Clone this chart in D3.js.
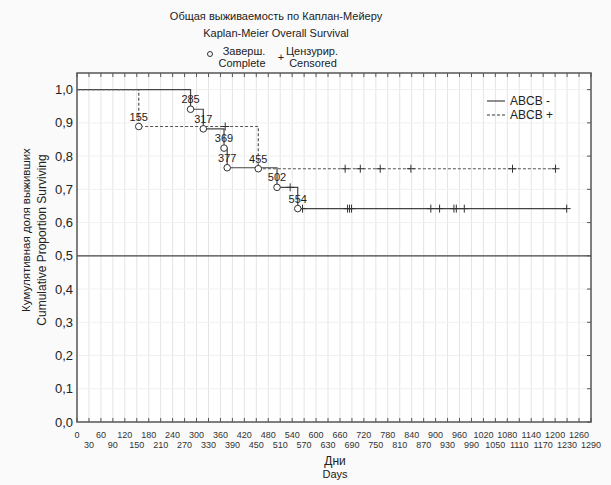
<!DOCTYPE html>
<html>
<head>
<meta charset="utf-8">
<script src="https://cdn.jsdelivr.net/npm/d3@7"></script>
<style>
  body { margin: 0; background: #fafafa; font-family: "Liberation Sans", Arial, sans-serif; }
</style>
</head>
<body>
<div id="chart"></div>
<script>
// Kaplan-Meier data
const minusEvents = [285, 317, 369, 377, 502, 554];
const minusSurv = [0.941, 0.882, 0.824, 0.765, 0.706, 0.642];
const minusCensored = [535, 566, 679, 684, 689, 888, 910, 946, 952, 972, 1229];

const plusEvents = [155, 455];
const plusSurv = [0.889, 0.762];
const plusCensored = [372, 673, 711, 761, 838, 1093, 1201];

const seriesNames = ["ABCB -", "ABCB +"];
const xTicks = d3.range(0, 1291, 30);
const yTicks = [0, 0.1, 0.2, 0.3, 0.4, 0.5, 0.6, 0.7, 0.8, 0.9, 1.0];

const W = 611, H = 485;
const margin = {top: 73, right: 20, bottom: 63, left: 77};
const width = W - margin.left - margin.right,
      height = H - margin.top - margin.bottom;

const svg = d3.select("#chart").append("svg")
    .attr("width", W).attr("height", H);

const x = d3.scaleLinear().domain([0, 1290]).range([margin.left, margin.left + width]);
const y = d3.scaleLinear().domain([0, 1.05]).range([margin.top + height, margin.top]);

// plot background
svg.append("rect")
    .attr("x", x(0)).attr("y", y(1.05))
    .attr("width", width).attr("height", height)
    .attr("fill", "#fff");

// grid
svg.append("g").selectAll("line")
  .data(xTicks.slice(1, -1))
  .join("line")
    .attr("x1", d => x(d)).attr("x2", d => x(d))
    .attr("y1", y(0)).attr("y2", y(1.05))
    .attr("stroke", "#e4e4e4").attr("stroke-width", 1);

svg.append("g").selectAll("line")
  .data(yTicks.slice(1))
  .join("line")
    .attr("x1", x(0)).attr("x2", x(1290))
    .attr("y1", d => y(d)).attr("y2", d => y(d))
    .attr("stroke", "#f0f0f0").attr("stroke-width", 1);

// median line
svg.append("line")
    .attr("x1", x(0)).attr("x2", x(1290))
    .attr("y1", y(0.5)).attr("y2", y(0.5))
    .attr("stroke", "#444").attr("stroke-width", 1.3);

// tick marks (inside)
const tickG = svg.append("g").attr("stroke", "#555").attr("stroke-width", 1);
tickG.selectAll(".tt").data(xTicks).join("line")
    .attr("x1", d => x(d)).attr("x2", d => x(d))
    .attr("y1", y(1.05)).attr("y2", y(1.05) + 4);
tickG.selectAll(".tb").data(xTicks).join("line")
    .attr("x1", d => x(d)).attr("x2", d => x(d))
    .attr("y1", y(0)).attr("y2", y(0) - 4);
tickG.selectAll(".tr").data(yTicks).join("line")
    .attr("x1", x(1290)).attr("x2", x(1290) - 4)
    .attr("y1", d => y(d)).attr("y2", d => y(d));

// frame
svg.append("rect")
    .attr("x", x(0)).attr("y", y(1.05))
    .attr("width", width).attr("height", height)
    .attr("fill", "none").attr("stroke", "#555").attr("stroke-width", 1.5);

// axis labels
svg.append("g").selectAll("text")
  .data(xTicks)
  .join("text")
    .attr("x", d => x(d))
    .attr("y", (d, i) => i % 2 === 0 ? y(0) + 16 : y(0) + 26)
    .attr("text-anchor", "middle")
    .attr("font-size", 9)
    .attr("fill", "#333")
    .text(d => d);

svg.append("g").selectAll("text")
  .data(yTicks)
  .join("text")
    .attr("x", x(0) - 4)
    .attr("y", d => y(d) + 4.5)
    .attr("text-anchor", "end")
    .attr("font-size", 13)
    .attr("fill", "#222")
    .text(d => d.toFixed(1).replace(".", ","));

// titles
const cx = 276;
svg.append("text").attr("x", cx).attr("y", 20).attr("text-anchor", "middle")
    .attr("font-size", 11).attr("fill", "#222").text("Общая выживаемость по Каплан-Мейеру");
svg.append("text").attr("x", cx).attr("y", 37).attr("text-anchor", "middle")
    .attr("font-size", 11).attr("fill", "#222").text("Kaplan-Meier Overall Survival");

// marker legend
svg.append("circle").attr("cx", 210).attr("cy", 54).attr("r", 2.5)
    .attr("fill", "none").attr("stroke", "#333");
svg.append("text").attr("x", 244).attr("y", 55).attr("text-anchor", "middle")
    .attr("font-size", 11).attr("fill", "#222").text("Заверш.");
svg.append("text").attr("x", 242).attr("y", 67).attr("text-anchor", "middle")
    .attr("font-size", 11).attr("fill", "#222").text("Complete");
svg.append("text").attr("x", 281).attr("y", 61).attr("text-anchor", "middle")
    .attr("font-size", 11).attr("fill", "#222").text("+");
svg.append("text").attr("x", 312).attr("y", 55).attr("text-anchor", "middle")
    .attr("font-size", 11).attr("fill", "#222").text("Цензурир.");
svg.append("text").attr("x", 313).attr("y", 67).attr("text-anchor", "middle")
    .attr("font-size", 11).attr("fill", "#222").text("Censored");

svg.append("text").attr("x", 335).attr("y", 465).attr("text-anchor", "middle")
    .attr("font-size", 12).attr("fill", "#222").text("Дни");
svg.append("text").attr("x", 335).attr("y", 478).attr("text-anchor", "middle")
    .attr("font-size", 11).attr("fill", "#222").text("Days");

svg.append("text")
    .attr("transform", "translate(30,230) rotate(-90)")
    .attr("text-anchor", "middle").attr("font-size", 11.5).attr("fill", "#222")
    .text("Кумулятивная доля выживших");
svg.append("text")
    .attr("transform", "translate(46,240) rotate(-90)")
    .attr("text-anchor", "middle").attr("font-size", 12).attr("fill", "#222")
    .text("Cumulative Proportion Surviving");

// survival curves
function survAt(events, surv, t) {
  let s = 1;
  events.forEach((e, i) => { if (e <= t) s = surv[i]; });
  return s;
}

function stepPoints(events, surv, censored) {
  const end = d3.max(events.concat(censored));
  const pts = [[0, 1]];
  let prev = 1;
  events.forEach((e, i) => {
    pts.push([e, prev]);
    pts.push([e, surv[i]]);
    prev = surv[i];
  });
  pts.push([end, prev]);
  return pts;
}

const line = d3.line().x(d => x(d[0])).y(d => y(d[1]));

const series = [
  {events: minusEvents, surv: minusSurv, cens: minusCensored, dash: null, color: "#444"},
  {events: plusEvents, surv: plusSurv, cens: plusCensored, dash: "3,2", color: "#555"}
];

series.forEach(s => {
  svg.append("path")
      .attr("d", line(stepPoints(s.events, s.surv, s.cens)))
      .attr("fill", "none")
      .attr("stroke", s.color)
      .attr("stroke-width", 1.2)
      .attr("stroke-dasharray", s.dash);
});

series.forEach(s => {
  const g = svg.append("g");
  g.selectAll("path.cens")
    .data(s.cens)
    .join("path")
      .attr("d", d => {
        const px = x(d), py = y(survAt(s.events, s.surv, d));
        return `M${px - 4},${py}H${px + 4}M${px},${py - 4}V${py + 4}`;
      })
      .attr("stroke", "#333").attr("stroke-width", 1);
  g.selectAll("circle")
    .data(s.events)
    .join("circle")
      .attr("cx", d => x(d))
      .attr("cy", (d, i) => y(s.surv[i]))
      .attr("r", 3.3)
      .attr("fill", "#fff").attr("stroke", "#333").attr("stroke-width", 1);
  g.selectAll("text")
    .data(s.events)
    .join("text")
      .attr("x", d => x(d))
      .attr("y", (d, i) => y(s.surv[i]) - 6)
      .attr("text-anchor", "middle")
      .attr("font-size", 11)
      .attr("fill", "#222")
      .text(d => d);
});

// series legend
const legend = svg.append("g");
seriesNames.forEach((name, i) => {
  const ly = 101 + i * 14;
  legend.append("line")
      .attr("x1", 487).attr("x2", 505).attr("y1", ly).attr("y2", ly)
      .attr("stroke", "#333").attr("stroke-width", 1.1)
      .attr("stroke-dasharray", series[i].dash);
  legend.append("text")
      .attr("x", 510).attr("y", ly + 4)
      .attr("font-size", 12).attr("fill", "#222")
      .text(name);
});
</script>
</body>
</html>
